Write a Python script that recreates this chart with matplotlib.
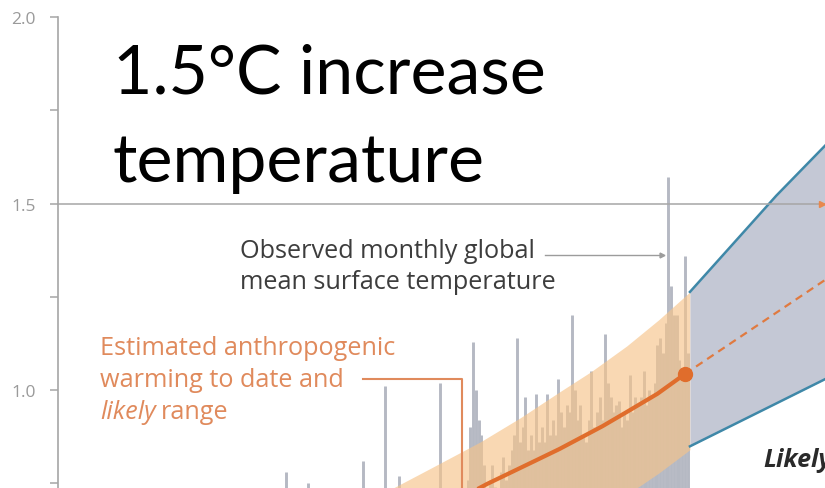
import numpy as np
import matplotlib
matplotlib.use("Agg")
import matplotlib.pyplot as plt

W, H = 825, 489

# observed monthly GMST anomaly (sampled quarterly), degC
obs_start = 1979.0
obs_vals = [
    0.40, 0.48, 0.44, 0.52,
    0.50, 0.46, 0.58, 0.78,
    0.55, 0.60, 0.52, 0.48,
    0.45, 0.50, 0.56, 0.75,
    0.62, 0.66, 0.58, 0.52,
    0.46, 0.50, 0.44, 0.48,
    0.42, 0.50, 0.46, 0.52,
    0.50, 0.55, 0.58, 0.60,
    0.56, 0.62, 0.66, 0.81,
    0.70, 0.66, 0.62, 0.58,
    0.55, 0.60, 0.64, 1.01,
    0.68, 0.72, 0.66, 0.70,
    0.77, 0.70, 0.66, 0.64,
    0.52, 0.56, 0.50, 0.54,
    0.56, 0.60, 0.58, 0.62,
    0.60, 0.66, 0.64, 1.02,
    0.72, 0.70, 0.68, 0.66,
    0.62, 0.70, 0.66, 0.68,
    0.70, 0.76, 0.90, 1.13,
    1.00, 0.92, 0.88, 0.80,
    0.72, 0.76, 0.80, 0.74,
    0.70, 0.78, 0.82, 0.76,
    0.80, 0.84, 0.88, 1.14,
    0.86, 0.90, 0.98, 0.84,
    0.88, 0.84, 0.99, 0.86,
    0.90, 0.86, 0.99, 0.88,
    0.92, 0.88, 1.03, 0.94,
    0.90, 0.96, 0.94, 1.20,
    1.00, 0.92, 0.96, 0.88,
    0.86, 0.92, 1.05, 0.90,
    0.94, 0.98, 0.92, 1.15,
    1.02, 0.98, 0.94, 0.96,
    0.97, 0.90, 0.94, 0.92,
    1.04, 0.94, 0.98, 0.96,
    0.98, 1.05, 0.96, 1.00,
    0.98, 1.02, 1.12, 1.14,
    1.10, 1.18, 1.57, 1.28,
    1.20, 1.20, 1.08, 1.04,
    1.36, 1.10,
]
obs_years = obs_start + 0.25 * np.arange(len(obs_vals))

# anthropogenic warming likely range
band_years = [1988, 1990.45, 1993.8, 1998.4, 2002, 2005.6, 2008.5, 2011.7, 2014.6, 2017.45]
band_low = [0.245, 0.294, 0.36, 0.453, 0.525, 0.597, 0.655, 0.719, 0.777, 0.84]
band_high = [0.70, 0.737, 0.789, 0.861, 0.925, 0.995, 1.05, 1.118, 1.188, 1.263]

# central estimate of anthropogenic warming
est_years = [1995, 1999, 2003.5, 2005.6, 2009.5, 2011.7, 2014.5, 2017.0]
est_vals = [0.685, 0.748, 0.812, 0.842, 0.903, 0.941, 0.99, 1.043]

# continued warming at the current rate
proj_years = [2017.0, 2029.73]
proj_vals = [1.043, 1.295]

# likely range of the projection
rng_years = [2017.45, 2025.3, 2029.73]
rng_high = [1.263, 1.521, 1.655]
rng_low = [0.849, 0.964, 1.029]

yticks_major = [1.0, 1.5, 2.0]
yticks_minor = [0.75, 1.25, 1.75]

ORANGE = "#e06d2c"
ORANGE_TXT = "#e08a5c"
GREY = "#a6a6a6"
SANS = "Open Sans"

fig = plt.figure(figsize=(W / 100, H / 100), dpi=100)
ax = fig.add_axes([0, 0, 1, 1])
ax.set_xlim(1960 - 58 / 11, 1960 + 767 / 11)
ax.set_ylim(2.0 - 471 / 373, 2.0 + 18 / 373)

for s in ["top", "right", "bottom"]:
    ax.spines[s].set_visible(False)
ax.spines["left"].set_position(("data", 1960))
ax.spines["left"].set_bounds(ax.get_ylim()[0], 2.0)
ax.spines["left"].set_color(GREY)
ax.spines["left"].set_linewidth(1.2)
ax.set_xticks([])
ax.set_yticks(yticks_major)
ax.set_yticks(yticks_minor, minor=True)
ax.set_yticklabels([f"{v:.1f}" for v in yticks_major])
ax.tick_params(axis="y", which="both", length=6, width=1.1, color=GREY,
               labelcolor="#9a9a9a", labelsize=12.5, pad=10)
for lab in ax.get_yticklabels():
    lab.set_family(SANS)

ax.vlines(obs_years, 0.3, obs_vals, color="#b5b9c3", lw=2.1, zorder=1)
ax.fill_between(band_years, band_low, band_high, color="#f6c48a", alpha=0.65,
                lw=0, zorder=2)
ax.plot(est_years, est_vals, color=ORANGE, lw=3.0, solid_capstyle="butt", zorder=4)

ax.fill_between(rng_years, rng_low, rng_high, color="#c4c8d5", lw=0, zorder=3)
ax.plot(rng_years, rng_high, color="#3f88a8", lw=1.8, zorder=3.5)
ax.plot(rng_years, rng_low, color="#3f88a8", lw=1.8, zorder=3.5)

ax.axhline(1.5, xmin=58 / W, color=GREY, lw=1.1, zorder=5)
ax.plot(proj_years, proj_vals, color="#e07a40", lw=1.6, ls=(0, (3.5, 2.5)), zorder=6)
ax.plot([2017.0], [1.043], "o", color=ORANGE, ms=10, zorder=7)
ax.plot([2029.5], [1.5], marker=">", color="#e8884e", ms=5, zorder=6)


def px(x, y):
    return x / W, 1 - y / H


def line(x, y, s, **kw):
    return fig.text(*px(x, y), s, va="baseline", ha="left", zorder=10, **kw)


title_kw = dict(family="Lato", fontsize=49, color="black")
line(113, 94, "1.5°C increase", **title_kw)
line(113, 182, "temperature", **title_kw)

obs_kw = dict(family=SANS, fontsize=18.2, color="#3d3d3d")
line(240, 258, "Observed monthly global", **obs_kw)
line(240, 289, "mean surface temperature", **obs_kw)

est_kw = dict(family=SANS, fontsize=18.2, color=ORANGE_TXT)
line(100, 355, "Estimated anthropogenic", **est_kw)
line(100, 387, "warming to date and", **est_kw)
t_likely = line(100, 419, "likely", style="italic", **est_kw)
fig.canvas.draw()
bb = t_likely.get_window_extent()
line(bb.x1 + 5, 419, "range", **est_kw)

line(763, 467, "Likely", family=SANS, style="italic", weight="bold",
     fontsize=18, color="#2a2a2a")

# leader lines
fig.add_artist(plt.Line2D([363 / W, 462 / W, 462 / W], [1 - 380 / H, 1 - 380 / H, 0],
                          color=ORANGE_TXT, lw=1.5, zorder=9))
fig.add_artist(plt.Line2D([545 / W, 660 / W], [1 - 256 / H, 1 - 256 / H],
                          color="#9c9c9c", lw=1.0, zorder=9))
fig.add_artist(plt.Line2D([662 / W], [1 - 256 / H], marker=">", ms=3.5,
                          color="#9c9c9c", zorder=9))

fig.savefig("out.png", dpi=100)
